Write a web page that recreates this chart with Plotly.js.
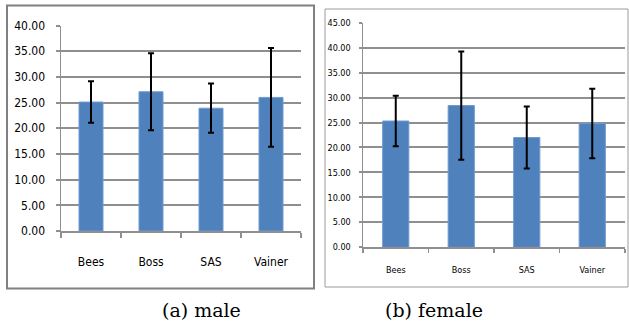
<!DOCTYPE html>
<html><head><meta charset="utf-8">
<script src="https://cdn.plot.ly/plotly-3.0.1.min.js"></script>
<style>html,body{margin:0;padding:0;background:#fff}#c{width:629px;height:322px}</style>
</head><body><div id="c"></div>
<script>
const categories = ["Bees", "Boss", "SAS", "Vainer"];
const maleMean = [25.1, 27.1, 23.9, 26.0];
const maleErr = [4.05, 7.5, 4.8, 9.6];
const femaleMean = [25.3, 28.4, 22.0, 24.8];
const femaleErr = [5.05, 10.85, 6.2, 6.95];
const maleTicks = [0, 5, 10, 15, 20, 25, 30, 35, 40];
const femaleTicks = [0, 5, 10, 15, 20, 25, 30, 35, 40, 45];
const captions = ["(a) male", "(b) female"];

const W = 629, H = 322;
const px = v => v / W, py = v => (H - v) / H;
const narrow = "Liberation Sans Narrow, DejaVu Sans Condensed, sans-serif";
const blue = "#4f81bd";

const traces = [
  {type: "bar", x: categories, y: maleMean, xaxis: "x", yaxis: "y",
   marker: {color: blue, line: {color: "#6f9bd0", width: 1}}, width: 0.4,
   error_y: {type: "data", array: maleErr, visible: true, color: "#000", thickness: 2, width: 3}},
  {type: "bar", x: categories, y: femaleMean, xaxis: "x2", yaxis: "y2",
   marker: {color: blue, line: {color: "#6f9bd0", width: 1}}, width: 0.4,
   error_y: {type: "data", array: femaleErr, visible: true, color: "#000", thickness: 2, width: 3}}
];

const grid = "#8f8f8f";
const layout = {
  width: W, height: H, margin: {l: 0, r: 0, t: 0, b: 0},
  paper_bgcolor: "#fff", plot_bgcolor: "#fff", showlegend: false,
  xaxis: {domain: [px(61), px(301)], anchor: "y", type: "category",
    showline: true, linecolor: grid, linewidth: 2, ticks: "outside", tickson: "boundaries",
    ticklen: 5, tickcolor: grid, tickwidth: 1.5, showgrid: false,
    tickfont: {family: narrow, size: 12, color: "#000"}, ticklabelstandoff: 19},
  yaxis: {domain: [py(231), py(25.5)], anchor: "x", range: [0, 40], tickvals: maleTicks,
    ticktext: maleTicks.map(v => v.toFixed(2)),
    showline: true, linecolor: grid, linewidth: 1.5, ticks: "outside", ticklen: 4, tickcolor: grid, tickwidth: 2,
    showgrid: true, gridcolor: grid, gridwidth: 2, zeroline: false,
    tickfont: {family: narrow, size: 12, color: "#000"}, ticklabelstandoff: 8},
  xaxis2: {domain: [px(363), px(625)], anchor: "y2", type: "category",
    showline: true, linecolor: grid, linewidth: 2, ticks: "outside", tickson: "boundaries",
    ticklen: 4, tickcolor: grid, tickwidth: 1.5, showgrid: false,
    tickfont: {family: narrow, size: 9, color: "#000"}, ticklabelstandoff: 13},
  yaxis2: {domain: [py(247.3), py(22.7)], anchor: "x2", range: [0, 45], tickvals: femaleTicks,
    ticktext: femaleTicks.map(v => v.toFixed(2)),
    showline: true, linecolor: grid, linewidth: 1.5, ticks: "outside", ticklen: 3, tickcolor: grid, tickwidth: 2,
    showgrid: true, gridcolor: grid, gridwidth: 2, zeroline: false,
    tickfont: {family: narrow, size: 9, color: "#000"}, ticklabelstandoff: 6},
  shapes: [
    {type: "rect", xref: "paper", yref: "paper", x0: px(7), x1: px(314), y0: py(288.5), y1: py(5.5),
     line: {color: "#808080", width: 2}},
    {type: "rect", xref: "paper", yref: "paper", x0: px(325), x1: px(628), y0: py(287), y1: py(9),
     line: {color: "#9a9a9a", width: 1}}
  ],
  annotations: [
    {text: captions[0], xref: "paper", yref: "paper", x: px(201), y: py(310), showarrow: false,
     xanchor: "center", yanchor: "middle", font: {family: "DejaVu Serif, serif", size: 19, color: "#000"}},
    {text: captions[1], xref: "paper", yref: "paper", x: px(434), y: py(310), showarrow: false,
     xanchor: "center", yanchor: "middle", font: {family: "DejaVu Serif, serif", size: 19, color: "#000"}}
  ]
};
Plotly.newPlot("c", traces, layout, {staticPlot: true, displayModeBar: false});
</script></body></html>
